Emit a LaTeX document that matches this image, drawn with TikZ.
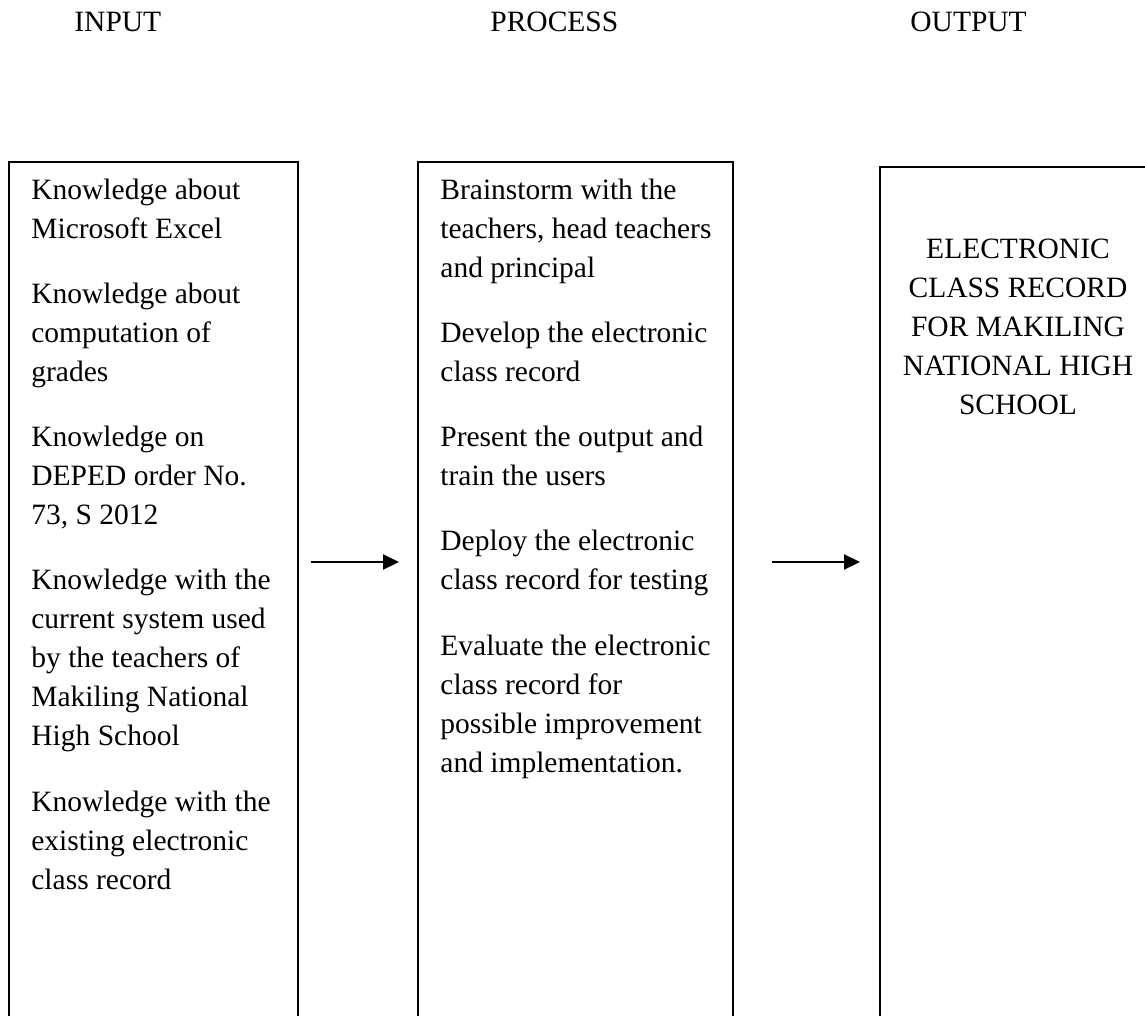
\documentclass[tikz,border=0pt]{standalone}
\usepackage{fontspec}
\setmainfont{Liberation Serif}
\usetikzlibrary{arrows.meta}

\begin{document}
\begin{tikzpicture}[x=0.5pt, y=-0.5pt,
  boxline/.style={line width=0.6pt},
  flowarrow/.style={line width=1.1pt, -{Triangle[length=8pt,width=7.5pt]}},
  headtext/.style={anchor=base west, inner sep=0pt, font=\fontsize{14.75}{19.5}\selectfont},
  bodytext/.style={anchor=base west, inner sep=0pt, align=left, font=\fontsize{14.75}{19.5}\selectfont},
  outtext/.style={anchor=base, inner sep=0pt, align=center, font=\fontsize{14.75}{19.5}\selectfont}]

% === Wymiary ===
\useasboundingbox (0,0) rectangle (1145,1016);
\clip (0,0) rectangle (1145,1016);

% === Naglowki ===
\node[headtext] (inhead) at (74,32) {INPUT};
\node[headtext] (prochead) at (490,32) {PROCESS};
\node[headtext] (outhead) at (910,32) {OUTPUT};

% === Ramki (ucięte u dołu) ===
\draw[boxline] (9,1030) -- (9,162) -- (298,162) -- (298,1030);
\draw[boxline] (418,1030) -- (418,162) -- (733,162) -- (733,1030);
\draw[boxline] (880,1030) -- (880,167) -- (1160,167);

% === INPUT (base = ostatnia linia) ===
\node[bodytext] (intext) at (31,889) {%
  Knowledge about\\
  Microsoft Excel\\[13.1pt]
  Knowledge about\\
  computation of\\
  grades\\[13.1pt]
  Knowledge on\\
  DEPED order No.\\
  73, S 2012\\[13.1pt]
  Knowledge with the\\
  current system used\\
  by the teachers of\\
  Makiling National\\
  High School\\[13.1pt]
  Knowledge with the\\
  existing electronic\\
  class record%
};

% === PROCESS ===
\node[bodytext] (proctext) at (440,772) {%
  Brainstorm with the\\
  teachers, head teachers\\
  and principal\\[13.1pt]
  Develop the electronic\\
  class record\\[13.1pt]
  Present the output and\\
  train the users\\[13.1pt]
  Deploy the electronic\\
  class record for testing\\[13.1pt]
  Evaluate the electronic\\
  class record for\\
  possible improvement\\
  and implementation.%
};

% === OUTPUT ===
\node[outtext] (outtext) at (1018,414) {%
  ELECTRONIC\\
  CLASS RECORD\\
  FOR MAKILING\\
  NATIONAL HIGH\\
  SCHOOL%
};

% === Strzałki ===
\coordinate (inarr) at (311,562);
\coordinate (procarr) at (399,562);
\coordinate (procout) at (772,562);
\coordinate (outarr) at (860,562);
\draw[flowarrow] (inarr) -- (procarr);
\draw[flowarrow] (procout) -- (outarr);

\end{tikzpicture}
\end{document}
